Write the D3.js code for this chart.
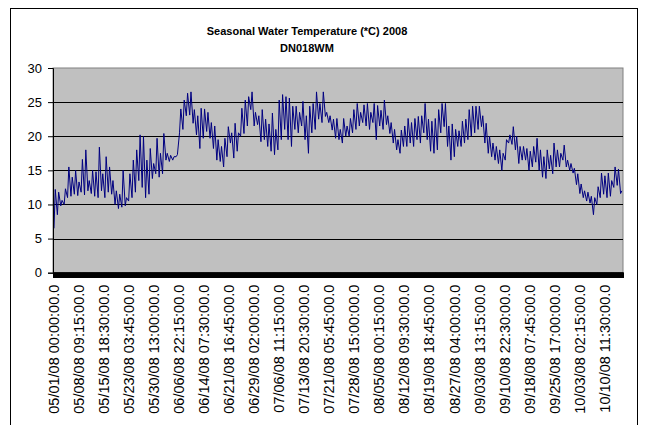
<!DOCTYPE html>
<html>
<head>
<meta charset="utf-8">
<script src="https://cdn.jsdelivr.net/npm/d3@7"></script>
<style>
  body { margin: 0; background: #fff; }
  text { font-family: Arial, 'Liberation Sans', sans-serif; }
</style>
</head>
<body>
<script>
// daily minimum / maximum water temperature, one entry per day from 05/01/08
const dayLow = [
  6.5, 8.5, 9.8, 10.0, 11.0, 11.2, 11.5, 11.3, 11.8, 11.4,
  12.0, 11.6, 11.2, 11.0, 12.0, 11.0, 11.8, 11.5, 10.0, 9.4,
  9.6, 9.8, 10.5, 11.0, 11.8, 13.5, 12.5, 11.0, 11.5, 13.8,
  14.5, 14.0, 14.5, 16.5, 16.3, 16.5, 17.0, 20.5, 21.0, 23.0,
  23.1, 21.9, 20.2, 18.2, 19.7, 20.7, 19.7, 18.2, 16.5, 16.3,
  15.5, 17.0, 19.0, 16.8, 17.8, 20.0, 20.4, 21.5, 23.9, 21.5,
  21.7, 19.2, 19.5, 18.5, 17.8, 17.3, 18.0, 19.5, 21.0, 19.5,
  18.5, 21.0, 20.5, 21.5, 19.5, 17.5, 20.5, 21.0, 22.5, 22.0,
  22.9, 22.0, 20.9, 19.7, 19.5, 19.0, 20.0, 20.0, 20.5, 21.0,
  21.5, 22.0, 21.5, 21.0, 22.0, 19.5, 21.5, 21.0, 21.7, 20.4,
  19.0, 18.0, 17.5, 18.5, 18.5, 19.0, 18.5, 19.5, 19.0, 20.5,
  19.5, 17.8, 17.5, 18.0, 20.5, 21.4, 18.5, 16.5, 17.0, 18.5,
  18.5, 19.0, 19.5, 20.0, 20.5, 21.0, 21.4, 19.0, 17.5, 17.0,
  16.5, 16.0, 15.0, 16.5, 19.0, 18.8, 18.0, 16.0, 16.5, 16.5,
  15.0, 15.5, 16.2, 15.0, 14.0, 13.8, 15.2, 14.5, 15.5, 15.5,
  16.5, 15.5, 15.0, 14.6, 12.9, 11.6, 11.0, 10.5, 10.2, 8.5,
  10.0, 11.0, 11.5, 11.0, 11.2, 12.5, 12.8, 11.6
]
const dayHigh = [
  12.2, 11.8, 10.6, 12.3, 15.5, 14.0, 15.0, 13.3, 16.6, 18.0,
  13.5, 15.0, 14.8, 18.4, 14.5, 17.0, 15.5, 13.5, 12.0, 11.5,
  15.0, 11.0, 14.5, 16.5, 18.0, 20.2, 20.0, 16.5, 18.2, 16.0,
  19.7, 17.5, 20.4, 17.5, 17.2, 17.0, 17.3, 24.0, 25.3, 26.3,
  26.5, 23.9, 23.0, 24.1, 24.0, 23.5, 22.0, 21.5, 19.5, 18.5,
  19.7, 21.4, 20.5, 21.9, 20.5, 24.1, 25.3, 25.8, 26.5, 23.5,
  23.0, 23.9, 22.5, 21.8, 23.4, 21.0, 25.3, 26.1, 25.8, 25.6,
  24.4, 24.4, 23.5, 25.1, 23.0, 24.4, 24.8, 26.5, 24.8, 26.5,
  23.5, 23.0, 22.5, 22.6, 21.0, 22.6, 21.5, 22.6, 23.9, 24.8,
  23.5, 24.6, 24.8, 23.5, 24.8, 24.5, 23.8, 25.3, 23.0, 22.0,
  21.0, 19.5, 20.9, 21.5, 22.6, 22.0, 22.6, 22.9, 23.0, 24.8,
  22.5, 22.2, 22.6, 23.9, 24.8, 24.8, 21.5, 21.8, 21.0, 20.8,
  22.2, 22.5, 23.9, 24.4, 24.4, 24.4, 23.0, 21.9, 20.0, 19.0,
  18.5, 18.0, 17.5, 19.5, 20.2, 21.4, 20.0, 18.5, 18.5, 18.2,
  17.8, 18.5, 19.7, 18.0, 17.0, 18.0, 17.2, 19.0, 18.0, 17.5,
  18.7, 16.5, 16.0, 15.3, 14.5, 13.0, 12.0, 11.8, 11.2, 11.0,
  12.6, 14.6, 14.2, 14.6, 13.5, 15.5, 15.2, 12.0
]
// category labels shown every 709 readings (15 minute logging)
const tickLabels = [
  '05/01/08 00:00:00.0', '05/08/08 09:15:00.0', '05/15/08 18:30:00.0', '05/23/08 03:45:00.0',
  '05/30/08 13:00:00.0', '06/06/08 22:15:00.0', '06/14/08 07:30:00.0', '06/21/08 16:45:00.0',
  '06/29/08 02:00:00.0', '07/06/08 11:15:00.0', '07/13/08 20:30:00.0', '07/21/08 05:45:00.0',
  '07/28/08 15:00:00.0', '08/05/08 00:15:00.0', '08/12/08 09:30:00.0', '08/19/08 18:45:00.0',
  '08/27/08 04:00:00.0', '09/03/08 13:15:00.0', '09/10/08 22:30:00.0', '09/18/08 07:45:00.0',
  '09/25/08 17:00:00.0', '10/03/08 02:15:00.0', '10/10/08 11:30:00.0'
]
const yTicks = [0, 5, 10, 15, 20, 25, 30]

const perDay = 96
const labelStep = 709
const total = dayLow.length * perDay

const width = 645
const height = 425
const plot = {left: 53, right: 623, top: 68, bottom: 272.7}

const svg = d3.select('body').append('svg').attr('width', width).attr('height', height)

// chart area border
svg.append('rect')
  .attr('x', 10.5).attr('y', 8.5).attr('width', 627).attr('height', 440)
  .attr('fill', '#fff').attr('stroke', '#000').attr('stroke-width', 1)

svg.append('text').attr('x', 307).attr('y', 35)
  .attr('text-anchor', 'middle').style('font-size', '11px').style('font-weight', 'bold')
  .text('Seasonal Water Temperature (*C) 2008')
svg.append('text').attr('x', 307).attr('y', 52)
  .attr('text-anchor', 'middle').style('font-size', '11px').style('font-weight', 'bold')
  .text('DN018WM')

const x = d3.scaleLinear().domain([0, total]).range([plot.left, plot.right])
const y = d3.scaleLinear().domain([0, 30]).range([plot.bottom, plot.top])

svg.append('rect')
  .attr('x', plot.left).attr('y', plot.top)
  .attr('width', plot.right - plot.left).attr('height', plot.bottom - plot.top)
  .attr('fill', '#c0c0c0').attr('stroke', '#808080').attr('stroke-width', 1)

svg.append('g').selectAll('line')
  .data(yTicks.slice(1, -1))
  .enter().append('line')
    .attr('x1', plot.left).attr('x2', plot.right)
    .attr('y1', d => Math.round(y(d)) + 0.5).attr('y2', d => Math.round(y(d)) + 0.5)
    .attr('stroke', '#000').attr('stroke-width', 1)

// readings: morning low and afternoon high for each day
const points = []
dayLow.forEach((lo, d) => {
  points.push([d * perDay + 28, lo])
  points.push([d * perDay + 64, dayHigh[d]])
})

const line = d3.line().x(d => x(d[0])).y(d => y(d[1]))
svg.append('path')
  .datum(points)
  .attr('d', line)
  .attr('fill', 'none').attr('stroke', '#000080').attr('stroke-width', 1)

const yAxis = svg.append('g')
  .attr('transform', 'translate(' + plot.left + ',0)')
  .call(d3.axisLeft(y).tickValues(yTicks).tickSize(5).tickPadding(6))
yAxis.select('.domain').attr('stroke', '#000')
yAxis.selectAll('text').style('font-size', '13px').attr('fill', '#000')

// every category gets a tick mark, which draws as a solid band
svg.append('g')
  .attr('transform', 'translate(0,' + plot.bottom + ')')
  .call(d3.axisBottom(x).tickValues(d3.range(0, total + 1, 6)).tickSize(5).tickFormat(''))
  .selectAll('line').attr('stroke', '#000')

const xAxis = svg.append('g')
  .attr('transform', 'translate(0,' + plot.bottom + ')')
  .call(d3.axisBottom(x)
    .tickValues(tickLabels.map((t, i) => i * labelStep))
    .tickSize(0)
    .tickFormat((d, i) => tickLabels[i]))
xAxis.select('.domain').remove()
xAxis.selectAll('text')
  .attr('transform', 'rotate(-90)')
  .attr('x', -12).attr('y', 0).attr('dy', '0.35em')
  .style('text-anchor', 'end').style('font-size', '14.5px').attr('fill', '#000')
</script>
</body>
</html>
